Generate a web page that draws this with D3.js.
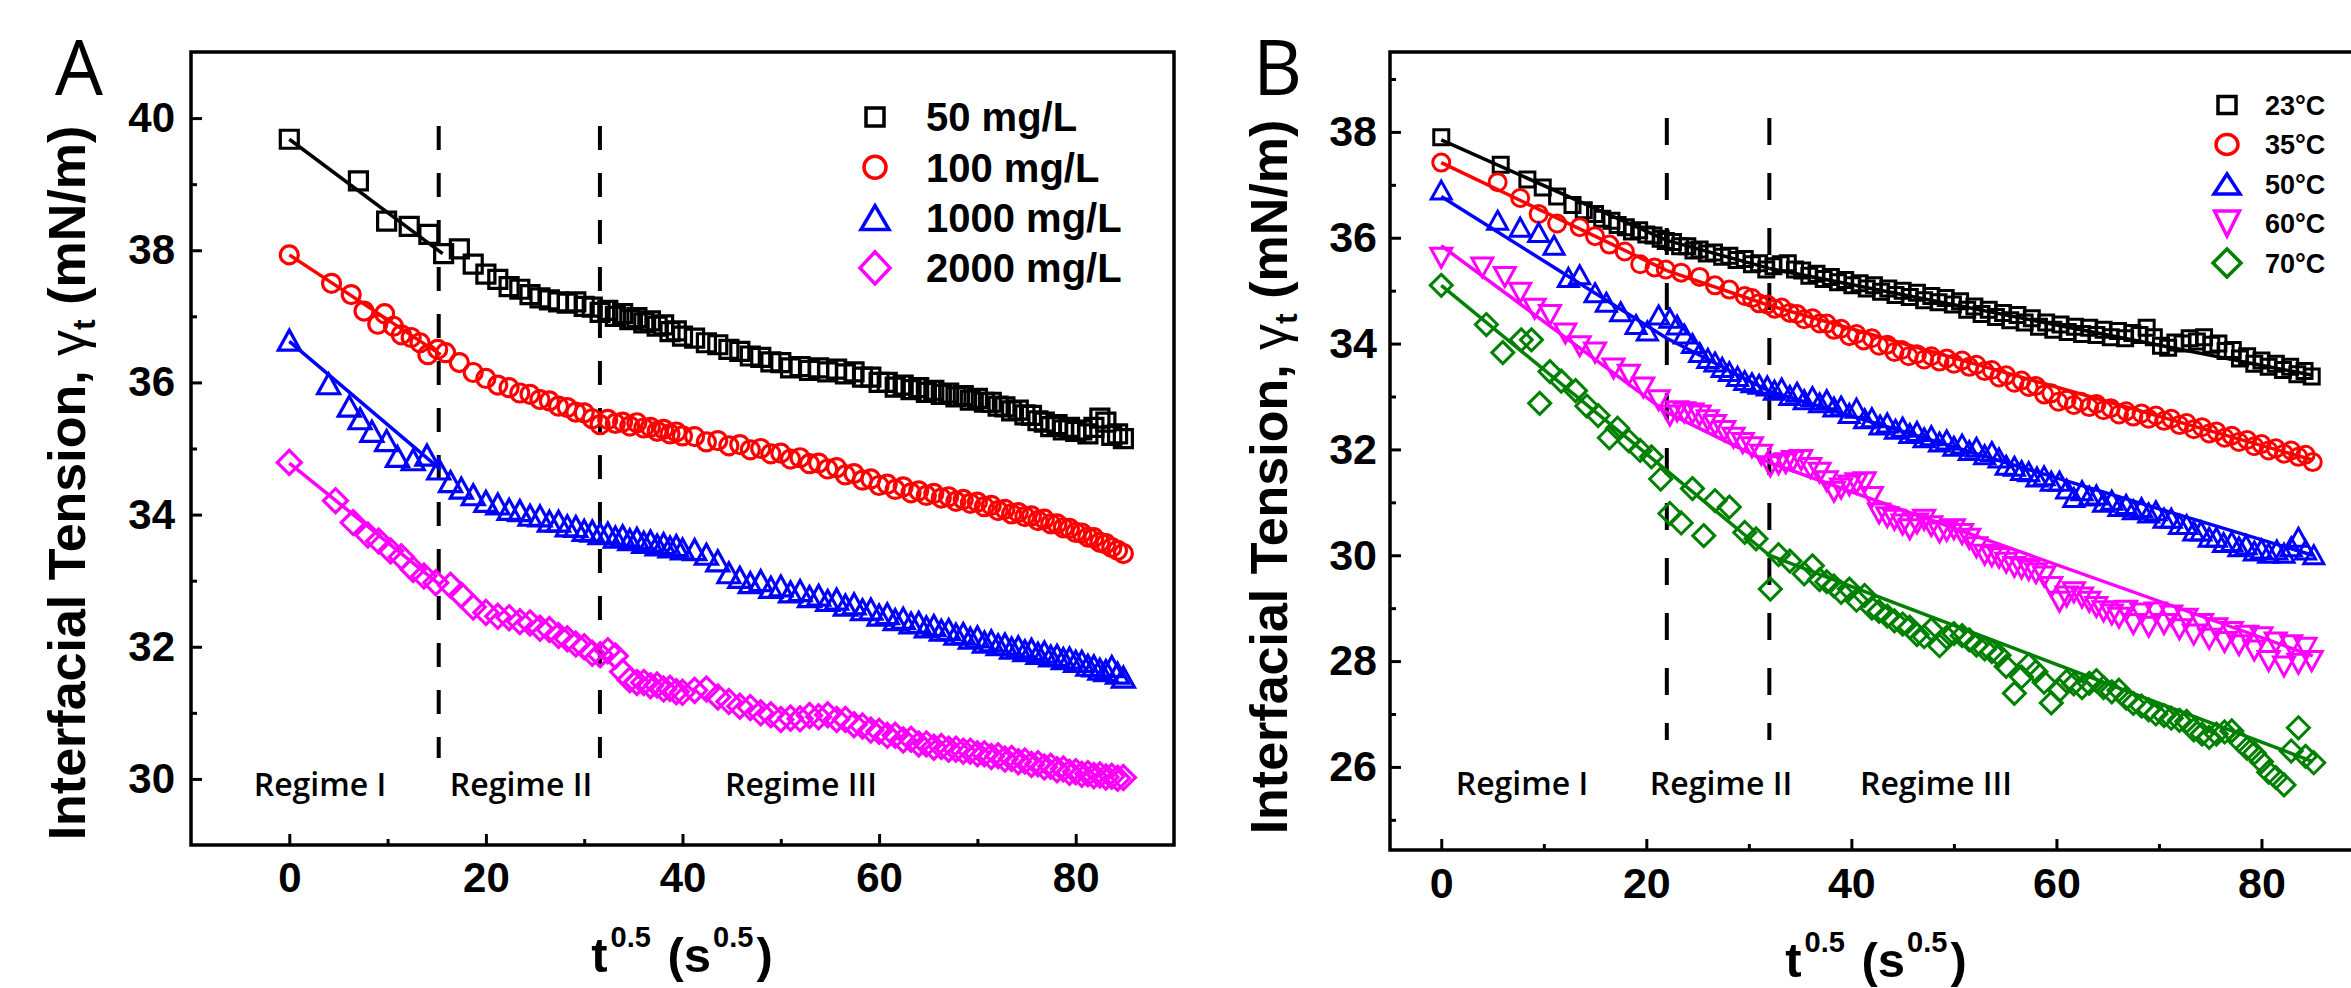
<!DOCTYPE html>
<html><head><meta charset="utf-8">
<script src="https://cdn.jsdelivr.net/npm/d3@7/dist/d3.min.js"></script>
<style>body{margin:0;background:#fff;}svg{display:block;}</style>
</head><body>
<svg id="chart" width="2351" height="988"></svg>
<script>
// ---------------- DATA ----------------
const xTicksMajor = [0, 20, 40, 60, 80];
const xTicksMinor = [10, 30, 50, 70];
const yTicksA = [30, 32, 34, 36, 38, 40];
const yMinorA = [31, 33, 35, 37, 39];
const yTicksB = [26, 28, 30, 32, 34, 36, 38];
const yMinorB = [25, 27, 29, 31, 33, 35, 37, 39];
const legendA = ["50 mg/L", "100 mg/L", "1000 mg/L", "2000 mg/L"];
const legendB = ["23°C", "35°C", "50°C", "60°C", "70°C"];
const regimeNames = ["Regime I", "Regime II", "Regime III"];
const boundariesA = [15.2, 31.6];
const boundariesB = [22, 32];

// Panel A: t^0.5 grid for the dense part of every series
const gridA = [18.71,20,21.21,22.36,23.45,24.49,25.5,26.46,27.39,28.28,29.15,30,30.82,31.62,32.4,33.17,33.91,34.64,35.36,36.06,36.74,37.42,38.08,38.73,39.37,40,
41.23,42.43,43.59,44.72,45.83,46.9,47.96,48.99,50,50.99,51.96,52.92,53.85,54.77,55.68,56.57,57.45,58.31,59.16,60,60.83,61.64,62.45,63.25,64.03,64.81,65.57,66.33,67.08,67.82,68.56,69.28,70,70.71,71.41,72.11,72.8,73.48,74.16,74.83,75.5,76.16,76.81,77.46,78.1,78.74,79.37,80,80.62,81.24,81.85,82.46,83.07,83.67,84.26,84.85];

const a50Early = [[0,39.68],[7.03,39.05],[9.9,38.44],[12.2,38.36],[14.2,38.24],[15.7,37.95],[17.3,38.02]];
const a50Tail = [37.79,37.64,37.56,37.45,37.41,37.33,37.28,37.25,37.22,37.2,37.22,37.15,37.14,37.06,37.09,37.0,37.04,36.95,36.98,36.9,36.93,36.85,36.87,36.77,36.78,36.7,
36.67,36.6,36.57,36.5,36.47,36.4,36.38,36.31,36.3,36.22,36.24,36.18,36.22,36.16,36.2,36.13,36.16,36.08,36.08,36.0,36.0,35.93,35.96,35.89,35.92,35.85,35.88,35.82,35.84,35.78,35.8,35.73,35.76,35.7,35.7,35.64,35.63,35.57,35.58,35.51,35.5,35.42,35.4,35.33,35.36,35.28,35.32,35.26,35.28,35.22,35.32,35.46,35.4,35.2,35.22,35.15];

const a100Early = [[0,37.93],[4.3,37.5],[6.3,37.33],[7.6,37.08],[9,36.88],[9.7,37.04],[10.6,36.85],[11.4,36.72],[12.4,36.68],[13.3,36.6],[14.1,36.42],[15.1,36.5],[15.9,36.45],[17.3,36.3]];
const a100Tail = [36.15,36.06,35.96,35.92,35.84,35.82,35.74,35.72,35.64,35.62,35.55,35.54,35.45,35.36,35.44,35.38,35.4,35.34,35.39,35.31,35.32,35.26,35.29,35.22,35.25,35.19,
35.18,35.1,35.12,35.04,35.06,34.98,35.0,34.92,34.93,34.84,34.86,34.77,34.78,34.69,34.71,34.6,34.62,34.52,34.54,34.44,34.46,34.38,34.42,34.33,34.36,34.29,34.32,34.25,34.27,34.2,34.23,34.17,34.19,34.12,34.14,34.06,34.08,34.01,34.03,33.97,33.98,33.91,33.93,33.86,33.86,33.8,33.79,33.73,33.72,33.66,33.65,33.58,33.56,33.5,33.46,33.41];

const a1000Early = [[0,36.64],[4,35.98],[6.1,35.64],[7.2,35.45],[8.4,35.26],[9.9,35.12],[11,34.88],[12.6,34.83],[14,34.9],[15.2,34.69],[16.4,34.5],[17.5,34.4]];
const a1000Tail = [34.3,34.2,34.16,34.08,34.06,33.99,33.98,33.9,33.9,33.83,33.82,33.76,33.75,33.71,33.72,33.66,33.68,33.62,33.64,33.58,33.6,33.54,33.56,33.51,33.53,33.48,
33.47,33.4,33.3,33.12,33.05,32.97,33.0,32.9,32.92,32.83,32.85,32.76,32.78,32.7,32.72,32.63,32.65,32.56,32.57,32.48,32.5,32.41,32.43,32.36,32.37,32.3,32.32,32.25,32.26,32.19,32.2,32.13,32.15,32.07,32.09,32.03,32.04,31.98,32.0,31.94,31.96,31.9,31.92,31.86,31.87,31.82,31.83,31.78,31.78,31.72,31.71,31.66,31.64,31.7,31.6,31.54];

const a2000Early = [[0,34.79],[4.7,34.21],[6.5,33.88],[8,33.69],[9.1,33.6],[10.3,33.45],[11.4,33.36],[12.6,33.17],[13.7,33.07],[14.9,32.97],[16.4,32.93],[17.5,32.78]];
const a2000Tail = [32.6,32.52,32.46,32.44,32.38,32.36,32.28,32.26,32.17,32.12,32.04,32.0,31.9,31.88,31.94,31.86,31.62,31.5,31.46,31.46,31.41,31.42,31.36,31.37,31.32,31.31,
31.34,31.36,31.24,31.17,31.1,31.08,31.0,30.97,30.9,30.92,30.91,30.96,30.94,30.97,30.9,30.9,30.82,30.8,30.74,30.72,30.66,30.66,30.59,30.6,30.53,30.53,30.48,30.49,30.45,30.45,30.42,30.42,30.38,30.38,30.34,30.35,30.3,30.31,30.26,30.27,30.22,30.23,30.18,30.19,30.14,30.15,30.1,30.11,30.07,30.08,30.05,30.06,30.03,30.04,30.01,30.02];

// Regime I linear fits, panel A  [[x0,y0],[x1,y1]]
const fitA50 = [[[0,39.68],[15.6,37.95]]];
const fitA100 = [[[0,37.93],[15.4,36.42]]];
const fitA1000 = [[[0,36.62],[15.4,34.68]]];
const fitA2000 = [[[0,34.78],[15.4,32.93]]];

// Panel B series, [t^0.5, gamma]
const b23 = [[0,37.9],[5.8,37.38],[8.4,37.1],[9.9,36.95],[11.3,36.78],[12.8,36.62],[13.9,36.52],[15,36.45],[15.7,36.36],[16.6,36.32],[17.2,36.24],[18,36.2],[18.6,36.12],[19.3,36.14],[20,36.06],[20.7,36.04],[21.4,35.98],[21.9,35.94],[22.6,35.92],[23.3,35.84],[24,35.84],[24.6,35.76],[25.2,35.78],[25.9,35.7],[26.6,35.72],[27.4,35.64],[28.1,35.66],[28.8,35.58],[29.6,35.6],[30.3,35.5],[31,35.52],[31.7,35.4],[32.4,35.46],[33.1,35.5],[33.8,35.52],[34.5,35.4],[35.2,35.38],[35.9,35.28],[36.6,35.32],[37.3,35.22],[38,35.26],[38.7,35.16],[39.4,35.2],[40.1,35.1],[40.8,35.14],[41.5,35.04],[42.2,35.1],[42.9,34.98],[43.6,35.04],[44.3,34.92],[45,35.0],[45.7,34.88],[46.4,34.96],[47.1,34.82],[47.8,34.9],[48.5,34.78],[49.2,34.86],[49.9,34.74],[50.6,34.8],[51.3,34.64],[52,34.7],[52.7,34.56],[53.4,34.64],[54.1,34.5],[54.8,34.58],[55.5,34.44],[56.2,34.54],[56.9,34.4],[57.6,34.48],[58.3,34.32],[59,34.4],[59.7,34.26],[60.4,34.36],[61.1,34.22],[61.8,34.32],[62.5,34.18],[63.2,34.3],[63.9,34.16],[64.6,34.26],[65.3,34.12],[66,34.24],[66.7,34.1],[67.4,34.2],[68.1,34.16],[68.8,34.3],[69.5,34.12],[70.2,33.96],[70.9,33.92],[71.6,34.02],[72.3,34.0],[73,34.1],[73.7,34.04],[74.4,34.12],[75.1,33.98],[75.8,34.0],[76.5,33.86],[77.2,33.88],[77.9,33.72],[78.6,33.76],[79.3,33.62],[80,33.68],[80.7,33.56],[81.4,33.62],[82.1,33.5],[82.8,33.56],[83.5,33.42],[84.2,33.48],[84.9,33.38]];
const b35 = [[0,37.42],[5.5,37.05],[7.7,36.75],[9.5,36.45],[11.3,36.27],[13.5,36.2],[15,36.03],[16.4,35.87],[17.9,35.74],[19.4,35.5],[20.8,35.44],[21.9,35.4],[23.4,35.34],[25.2,35.26],[26.7,35.1],[28.1,35.02],[29.6,34.9],[30.3,34.86],[31,34.76],[31.8,34.74],[32.5,34.66],[33.2,34.68],[34,34.58],[34.7,34.56],[35.4,34.46],[36.2,34.48],[36.9,34.38],[37.6,34.38],[38.3,34.26],[39,34.28],[39.8,34.14],[40.5,34.18],[41.2,34.06],[42,34.1],[42.7,33.96],[43.5,33.98],[44.2,33.84],[44.9,33.88],[45.6,33.76],[46.4,33.8],[47.1,33.7],[47.8,33.76],[48.6,33.66],[49.3,33.72],[50,33.62],[50.8,33.68],[51.5,33.56],[52.2,33.6],[53,33.48],[53.7,33.5],[54.4,33.36],[55.1,33.4],[55.9,33.26],[56.6,33.3],[57.3,33.18],[58,33.2],[58.8,33.04],[59.5,33.06],[60.2,32.9],[61,32.94],[61.7,32.84],[62.4,32.9],[63.2,32.8],[63.9,32.86],[64.6,32.74],[65.3,32.78],[66.1,32.66],[66.8,32.72],[67.5,32.62],[68.3,32.68],[69,32.58],[69.7,32.64],[70.5,32.54],[71.2,32.58],[72,32.46],[72.7,32.5],[73.4,32.38],[74.2,32.42],[74.9,32.3],[75.6,32.34],[76.4,32.22],[77.1,32.26],[77.8,32.14],[78.6,32.18],[79.3,32.06],[80,32.1],[80.7,31.98],[81.4,32.02],[82.2,31.92],[82.9,31.98],[83.6,31.86],[84.3,31.9],[85,31.76]];
const b50 = [[0,36.9],[5.5,36.33],[7.7,36.2],[9.5,36.1],[11,35.86],[12.4,35.25],[13.5,35.3],[15,34.96],[16.1,34.78],[17.5,34.6],[19,34.36],[20.1,34.24],[21.2,34.54],[22.3,34.48],[23,34.35],[23.7,34.18],[24.5,34.0],[25.2,33.83],[26,33.72],[26.7,33.65],[27.4,33.55],[28.1,33.47],[28.9,33.38],[29.6,33.3],[30.3,33.26],[31,33.23],[31.8,33.2],[32.5,33.12],[33.2,33.16],[34,33.02],[34.7,33.08],[35.4,32.94],[36.2,33.0],[36.9,32.88],[37.6,32.94],[38.3,32.8],[39,32.82],[39.8,32.68],[40.5,32.78],[41.3,32.58],[42,32.6],[42.8,32.46],[43.5,32.5],[44.3,32.38],[45,32.42],[45.7,32.3],[46.4,32.34],[47.1,32.22],[47.8,32.26],[48.6,32.14],[49.3,32.18],[50,32.06],[50.8,32.1],[51.5,31.98],[52.2,32.04],[53,31.9],[53.7,31.96],[54.4,31.84],[55.1,31.7],[55.9,31.68],[56.6,31.6],[57.3,31.58],[58.1,31.48],[58.8,31.5],[59.5,31.4],[60.3,31.4],[61,31.25],[61.7,31.09],[62.5,31.22],[63.2,31.12],[63.9,31.14],[64.6,31.0],[65.4,31.04],[66.1,30.92],[66.8,30.96],[67.5,30.86],[68.3,30.9],[69,30.8],[69.7,30.84],[70.5,30.7],[71.2,30.7],[72,30.58],[72.7,30.58],[73.4,30.46],[74.1,30.46],[74.9,30.34],[75.6,30.34],[76.3,30.24],[77.1,30.26],[77.8,30.16],[78.5,30.2],[79.3,30.08],[80,30.12],[80.7,30.04],[81.5,30.1],[82.2,30.04],[82.9,30.16],[83.6,30.34],[84.3,30.1],[85.1,30.01]];
const b60 = [[0,35.62],[4,35.44],[6.2,35.26],[7.7,34.96],[9.1,34.66],[10.6,34.54],[12.1,34.19],[13.5,33.95],[15,33.83],[16.8,33.53],[18.3,33.41],[19.7,33.17],[21.2,32.93],[22.3,32.64],[23,32.72],[23.7,32.7],[24.5,32.68],[25.2,32.64],[26,32.55],[26.7,32.46],[27.6,32.35],[28.5,32.22],[29.4,32.12],[30.3,32.04],[31.2,31.9],[32.1,31.68],[32.9,31.72],[33.6,31.74],[34.3,31.78],[35.1,31.8],[36,31.65],[36.9,31.56],[37.6,31.4],[38.3,31.2],[39,31.26],[39.8,31.32],[40.5,31.36],[41.3,31.38],[42,31.1],[42.7,30.79],[43.5,30.72],[44.2,30.67],[45,30.58],[45.7,30.49],[46.4,30.6],[47.1,30.67],[47.8,30.55],[48.6,30.43],[49.3,30.46],[50,30.49],[50.8,30.4],[51.5,30.31],[52.2,30.15],[53,30.01],[53.7,29.98],[54.4,29.95],[55.1,29.86],[55.9,29.78],[56.6,29.75],[57.3,29.72],[58,29.66],[58.8,29.6],[59.5,29.4],[60.3,29.12],[61,29.22],[61.7,29.3],[62.5,29.2],[63.2,29.12],[63.9,29.02],[64.6,28.94],[65.4,28.88],[66.1,28.82],[66.8,28.95],[67.5,28.7],[68.3,28.9],[69,28.65],[69.7,28.92],[70.5,28.7],[71.2,28.86],[72,28.6],[72.7,28.8],[73.4,28.5],[74.2,28.7],[74.9,28.42],[75.6,28.62],[76.4,28.36],[77.1,28.55],[77.8,28.3],[78.6,28.48],[79.3,28.2],[80,28.45],[80.7,28.0],[81.4,28.35],[82.2,27.9],[82.9,28.3],[83.6,27.95],[84.3,28.25],[84.9,28.0]];
const b70 = [[0,35.1],[4.4,34.36],[6,33.83],[7.8,34.07],[8.8,34.07],[9.6,32.87],[10.6,33.47],[11.7,33.29],[13.1,33.11],[14.2,32.82],[15.3,32.64],[16.4,32.22],[17.2,32.4],[18.3,32.16],[19.4,31.98],[20.5,31.86],[21.4,31.44],[22.3,30.79],[23.4,30.61],[24.5,31.26],[25.6,30.37],[26.7,31.03],[28.1,30.91],[29.6,30.43],[30.7,30.31],[32.1,29.36],[32.9,30.01],[34,29.89],[35.4,29.65],[36.2,29.8],[36.9,29.54],[37.6,29.5],[38.3,29.42],[39,29.3],[39.8,29.36],[40.5,29.15],[41.3,29.24],[42,29.0],[42.7,28.94],[43.5,28.85],[44.2,28.76],[45,28.7],[45.7,28.64],[46.4,28.5],[47.1,28.46],[47.8,28.6],[48.6,28.29],[49.3,28.45],[50,28.52],[50.8,28.48],[51.5,28.4],[52.2,28.3],[53,28.23],[53.7,28.18],[54.4,28.11],[55.1,27.9],[55.9,27.39],[56.6,27.7],[57.3,27.93],[58,27.8],[58.8,27.6],[59.5,27.21],[60.3,27.45],[61,27.62],[61.7,27.57],[62.5,27.5],[63.2,27.58],[63.9,27.63],[64.6,27.5],[65.4,27.42],[66.1,27.45],[66.8,27.3],[67.5,27.2],[68.3,27.15],[69,27.08],[69.7,27.0],[70.5,26.97],[71.2,26.92],[72,26.88],[72.7,26.86],[73.4,26.7],[74.2,26.62],[74.9,26.56],[75.6,26.62],[76.4,26.66],[77.1,26.68],[77.8,26.5],[78.6,26.35],[79.3,26.26],[80,26.1],[80.7,25.9],[81.4,25.8],[82.2,25.66],[82.9,26.3],[83.6,26.74],[84.3,26.2],[85.1,26.08]];

// Piecewise linear fits, panel B (regime I, II, III)
const fitB23 = [[[0,37.85],[22,35.95]],[[22,35.95],[32,35.42]],[[32,35.42],[85,33.4]]];
const fitB35 = [[[0,37.42],[22,35.38]],[[22,35.38],[32,34.72]],[[32,34.72],[85,31.8]]];
const fitB50 = [[[0,36.78],[22,34.1]],[[22,34.1],[32,33.1]],[[32,33.1],[85,30.0]]];
const fitB60 = [[[0,35.85],[22,32.7]],[[22,32.7],[32,31.75]],[[32,31.75],[85,28.1]]];
const fitB70 = [[[0,35.1],[22,31.6]],[[22,31.6],[32,30.0]],[[32,30.0],[85,26.1]]];

// ---------------- STYLE / LAYOUT ----------------
const COLORS = ["#000000", "#ff0000", "#0000ff", "#ff00ff", "#008000"];
const AXIS_FONT = "'Liberation Sans', Arial, Helvetica, sans-serif";
const LABEL_FONT = "'Open Sans', 'Noto Sans', sans-serif";

function markerPath(shape, hw, hh) {
  switch (shape) {
    case "square": return `M${-hw},${-hh}H${hw}V${hh}H${-hw}Z`;
    case "circle": return `M${hw},0A${hw},${hh} 0 1,1 ${-hw},0A${hw},${hh} 0 1,1 ${hw},0Z`;
    case "triangle": return `M0,${-hh}L${hw},${hh}L${-hw},${hh}Z`;
    case "triangleDown": return `M0,${hh}L${hw},${-hh}L${-hw},${-hh}Z`;
    case "diamond": return `M0,${-hh}L${hw},0L0,${hh}L${-hw},0Z`;
  }
}

const svg = d3.select("#chart");
svg.append("rect").attr("width", 2351).attr("height", 988).attr("fill", "#fff");

function drawPanel(cfg) {
  const x = d3.scaleLinear().domain(cfg.xDomain).range([cfg.left, cfg.right]);
  const y = d3.scaleLinear().domain(cfg.yDomain).range([cfg.bottom, cfg.top]);
  const g = svg.append("g");

  // dashed regime boundaries
  cfg.bounds.forEach(b => {
    g.append("line").attr("x1", x(b)).attr("x2", x(b))
      .attr("y1", cfg.dashTop).attr("y2", cfg.dashBottom)
      .attr("stroke", "#000").attr("stroke-width", 4)
      .attr("stroke-dasharray", cfg.dash);
  });

  // fit lines
  cfg.series.forEach(s => {
    s.fits.forEach(seg => {
      g.append("line")
        .attr("x1", x(seg[0][0])).attr("y1", y(seg[0][1]))
        .attr("x2", x(seg[1][0])).attr("y2", y(seg[1][1]))
        .attr("stroke", s.color).attr("stroke-width", 3.5);
    });
  });

  // markers
  cfg.series.forEach(s => {
    const m = cfg.markers[s.shape];
    g.append("g").selectAll("path").data(s.points).join("path")
      .attr("transform", d => `translate(${x(d[0])},${y(d[1])})`)
      .attr("d", markerPath(s.shape, m[0], m[1]))
      .attr("fill", "none").attr("stroke", s.color).attr("stroke-width", cfg.mStroke);
  });

  // frame
  g.append("rect").attr("x", cfg.left).attr("y", cfg.top)
    .attr("width", cfg.right - cfg.left).attr("height", cfg.bottom - cfg.top)
    .attr("fill", "none").attr("stroke", "#000").attr("stroke-width", 3.5);

  // axes (ticks inward)
  const styleAxis = sel => {
    sel.select(".domain").remove();
    sel.selectAll(".tick line").attr("stroke", "#000").attr("stroke-width", 3);
    sel.attr("font-family", AXIS_FONT).attr("font-weight", "bold").attr("font-size", cfg.tickFont);
    sel.selectAll(".tick text").attr("fill", "#000");
  };
  g.append("g").attr("transform", `translate(0,${cfg.bottom})`)
    .call(d3.axisBottom(x).tickValues(xTicksMajor).tickSize(-11).tickPadding(cfg.xPad).tickFormat(d3.format("d")))
    .call(styleAxis);
  g.append("g").attr("transform", `translate(0,${cfg.bottom})`)
    .call(d3.axisBottom(x).tickValues(xTicksMinor).tickSize(-6).tickFormat(""))
    .call(styleAxis);
  g.append("g").attr("transform", `translate(${cfg.left},0)`)
    .call(d3.axisLeft(y).tickValues(cfg.yTicks).tickSize(-11).tickPadding(cfg.yPad).tickFormat(d3.format("d")))
    .call(styleAxis);
  g.append("g").attr("transform", `translate(${cfg.left},0)`)
    .call(d3.axisLeft(y).tickValues(cfg.yMinor).tickSize(-6).tickFormat(""))
    .call(styleAxis);

  // regime labels
  regimeNames.forEach((t, i) => {
    g.append("text").attr("x", cfg.regimeX[i]).attr("y", cfg.regimeY)
      .attr("text-anchor", "middle").attr("font-family", LABEL_FONT)
      .attr("font-weight", 600).attr("font-size", 32).attr("fill", "#000").text(t);
  });

  // y title
  const yt = g.append("text")
    .attr("transform", `translate(${cfg.yTitle[0]},${cfg.yTitle[1]}) rotate(-90)`)
    .attr("text-anchor", "middle").attr("font-family", AXIS_FONT)
    .attr("font-weight", "bold").attr("font-size", 52).attr("fill", "#000");
  yt.append("tspan").text("Interfacial Tension, ");
  yt.append("tspan").attr("font-weight", "normal").text("γ");
  yt.append("tspan").attr("font-size", 32).attr("dy", 10).text("t");
  yt.append("tspan").attr("dy", -10).text(" (mN/m)");

  // x title
  const xt = g.append("text").attr("x", cfg.xTitle[0]).attr("y", cfg.xTitle[1])
    .attr("text-anchor", "middle").attr("font-family", AXIS_FONT)
    .attr("font-weight", "bold").attr("font-size", 49).attr("fill", "#000");
  xt.append("tspan").text("t");
  xt.append("tspan").attr("font-size", 29).attr("dy", -25).attr("dx", 3).text("0.5");
  xt.append("tspan").attr("dy", 25).attr("dx", 3).text(" (s");
  xt.append("tspan").attr("font-size", 29).attr("dy", -25).attr("dx", 2).text("0.5");
  xt.append("tspan").attr("dy", 25).attr("dx", 3).text(")");

  // panel letter
  g.append("text").attr("x", cfg.letterPos[0]).attr("y", cfg.letterPos[1])
    .attr("font-family", LABEL_FONT).attr("font-size", 76).attr("fill", "#000").text(cfg.letter);

  // legend
  cfg.series.forEach((s, i) => {
    const cy = cfg.legend.y0 + i * cfg.legend.dy;
    const m = cfg.legend.markers[s.shape];
    g.append("path").attr("transform", `translate(${cfg.legend.sx},${cy})`)
      .attr("d", markerPath(s.shape, m[0], m[1]))
      .attr("fill", "none").attr("stroke", s.color).attr("stroke-width", cfg.legend.stroke);
    g.append("text").attr("x", cfg.legend.tx).attr("y", cy).attr("dy", "0.36em")
      .attr("font-family", AXIS_FONT).attr("font-weight", "bold")
      .attr("font-size", cfg.legend.font).attr("fill", "#000").text(cfg.legend.labels[i]);
  });
}

const zipTail = (grid, vals) => grid.map((gx, i) => [gx, vals[i]]).filter(d => d[1] != null);

drawPanel({
  letter: "A", letterPos: [55, 95],
  left: 191, right: 1174, top: 52, bottom: 845,
  xDomain: [-10, 90], yDomain: [29, 41],
  yTicks: yTicksA, yMinor: yMinorA,
  tickFont: 42, xPad: 17, yPad: 16,
  bounds: boundariesA, dashTop: 126, dashBottom: 758, dash: "24,23",
  regimeX: [320, 521, 801], regimeY: 796,
  yTitle: [85, 483], xTitle: [682, 972],
  mStroke: 3.2,
  markers: { square: [9, 9], circle: [9, 9], triangle: [11, 10], diamond: [12, 12] },
  series: [
    { color: COLORS[0], shape: "square", points: a50Early.concat(zipTail(gridA, a50Tail)), fits: fitA50 },
    { color: COLORS[1], shape: "circle", points: a100Early.concat(zipTail(gridA, a100Tail)), fits: fitA100 },
    { color: COLORS[2], shape: "triangle", points: a1000Early.concat(zipTail(gridA, a1000Tail)), fits: fitA1000 },
    { color: COLORS[3], shape: "diamond", points: a2000Early.concat(zipTail(gridA, a2000Tail)), fits: fitA2000 }
  ],
  legend: { labels: legendA, sx: 875, tx: 926, y0: 117, dy: 50.3, font: 40, stroke: 3.5,
    markers: { square: [9, 9], circle: [11, 11], triangle: [14, 12], diamond: [15, 16] } }
});

drawPanel({
  letter: "B", letterPos: [1253, 95],
  left: 1390, right: 2364, top: 52, bottom: 850,
  xDomain: [-5, 90], yDomain: [24.43, 39.51],
  yTicks: yTicksB, yMinor: yMinorB,
  tickFont: 43, xPad: 17, yPad: 13,
  bounds: boundariesB, dashTop: 118, dashBottom: 740, dash: "27,28",
  regimeX: [1522, 1721, 1936], regimeY: 795,
  yTitle: [1287, 477], xTitle: [1876, 977],
  mStroke: 3.0,
  markers: { square: [7.5, 7.5], circle: [8.5, 8.5], triangle: [10, 9], triangleDown: [10.5, 9.5], diamond: [11, 11] },
  series: [
    { color: COLORS[0], shape: "square", points: b23, fits: fitB23 },
    { color: COLORS[1], shape: "circle", points: b35, fits: fitB35 },
    { color: COLORS[2], shape: "triangle", points: b50, fits: fitB50 },
    { color: COLORS[3], shape: "triangleDown", points: b60, fits: fitB60 },
    { color: COLORS[4], shape: "diamond", points: b70, fits: fitB70 }
  ],
  legend: { labels: legendB, sx: 2227, tx: 2265, y0: 105, dy: 39.5, font: 27, stroke: 3.5,
    markers: { square: [9, 8.5], circle: [11, 10], triangle: [13, 10], triangleDown: [12.5, 12.5], diamond: [14, 14] } }
});
</script>
</body></html>
